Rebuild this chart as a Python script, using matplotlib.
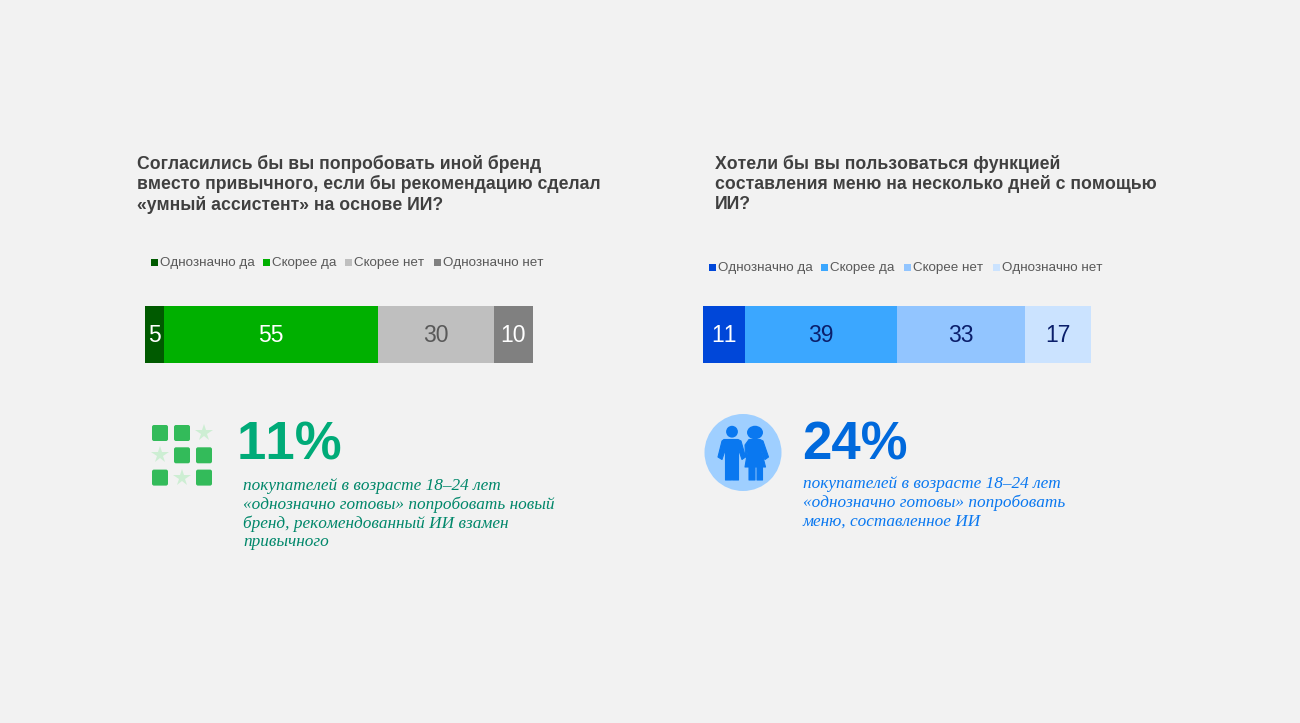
import matplotlib
matplotlib.use('Agg')
import matplotlib.pyplot as plt
from matplotlib.patches import Circle, Ellipse, FancyBboxPatch, Polygon

plt.rcParams['text.kerning_factor'] = 6
plt.rcParams['font.family'] = ['Liberation Sans', 'DejaVu Sans']

W, H = 1300, 723
BG = '#f2f2f2'

LEGEND_LABELS = ['Однозначно да', 'Скорее да', 'Скорее нет', 'Однозначно нет']

left_values = [5, 55, 30, 10]
left_colors = ['#005a00', '#00b000', '#bfbfbf', '#808080']
left_text = ['white', 'white', '#595959', 'white']
left_legend_x = [151, 263, 345, 434]
left_title = ['Согласились бы вы попробовать иной бренд',
              'вместо привычного, если бы рекомендацию сделал',
              '«умный ассистент» на основе ИИ?']
left_note = ['покупателей в возрасте 18–24 лет',
             '«однозначно готовы» попробовать новый',
             'бренд, рекомендованный ИИ взамен',
             'привычного']

right_values = [11, 39, 33, 17]
right_colors = ['#0047d9', '#3ba7ff', '#92c5ff', '#cbe3ff']
right_text = ['white', '#0b1f6b', '#0b1f6b', '#0b1f6b']
right_legend_x = [709, 821, 904, 993]
right_title = ['Хотели бы вы пользоваться функцией',
               'составления меню на несколько дней с помощью',
               'ИИ?']
right_note = ['покупателей в возрасте 18–24 лет',
              '«однозначно готовы» попробовать',
              'меню, составленное ИИ']

fig = plt.figure(figsize=(W / 100, H / 100), dpi=100, facecolor=BG)

# overlay in pixel coords for text and icons
bg = fig.add_axes([0, 0, 1, 1])
bg.set_xlim(0, W)
bg.set_ylim(H, 0)
bg.axis('off')


def stacked_bar(x0, x1, y0, y1, values, colors, text_colors):
    ax = fig.add_axes([x0 / W, 1 - y1 / H, (x1 - x0) / W, (y1 - y0) / H])
    ax.set_xlim(0, sum(values))
    ax.set_ylim(0, 1)
    ax.axis('off')
    start = 0
    for v, c, t in zip(values, colors, text_colors):
        ax.barh(0.5, v, left=start, height=1, color=c, linewidth=0)
        ax.text(start + v / 2, 0.47, str(v), color=t, fontsize=16.5, ha='center', va='center')
        start += v


def legend(xs, y, colors):
    for x, c, label in zip(xs, colors, LEGEND_LABELS):
        bg.add_patch(plt.Rectangle((x, y - 3.5), 7, 7, color=c, lw=0))
        bg.text(x + 9, y + 0.5, label, fontsize=9.6, color='#595959', va='center')


def lines(x, y, rows, step, **kw):
    for i, row in enumerate(rows):
        bg.text(x, y + i * step, row, va='center', **kw)


# left panel
lines(137, 163.5, left_title, 20.7, fontsize=12.7, fontweight='bold', color='#404040')
legend(left_legend_x, 262.5, left_colors)
stacked_bar(145, 532.5, 306, 362.5, left_values, left_colors, left_text)
bg.text(237, 445, '11%', fontsize=38, fontweight='bold', color='#00ab78', va='center')
lines(243, 486.5, left_note, 18.4, fontsize=12.4, style='italic', color='#00876a',
      family=['Liberation Serif', 'DejaVu Serif'])

# squares and stars
for r, row in enumerate(['ssx', 'xss', 'sxs']):
    for c, kind in enumerate(row):
        cx = 160 + c * 22
        cy = 433 + r * 22.3
        if kind == 's':
            bg.add_patch(FancyBboxPatch((cx - 6.5, cy - 6.5), 13, 13,
                                        boxstyle='round,pad=1.5,rounding_size=2',
                                        fc='#33bb5a', ec='none'))
        else:
            bg.plot(cx, cy, marker='*', ms=13, color='#cdeed3', mew=0)

# right panel
lines(715, 163.5, right_title, 20.7, fontsize=12.7, fontweight='bold', color='#404040')
legend(right_legend_x, 267, right_colors)
stacked_bar(702.5, 1091, 305.5, 363, right_values, right_colors, right_text)
bg.text(802, 445, '24%', fontsize=38, fontweight='bold', color='#0069dc', va='center')
lines(803, 484.5, right_note, 18.4, fontsize=12.4, style='italic', color='#0a78f0',
      family=['Liberation Serif', 'DejaVu Serif'])

# boy and girl icon
PERSON = '#0a78f0'
bg.add_patch(Circle((743, 452.5), 38.5, fc='#9fcfff', ec='none'))
bg.add_patch(Circle((732, 431.7), 5.9, fc=PERSON, ec='none'))
bg.add_patch(Ellipse((755, 432.5), 16, 13.5, fc=PERSON, ec='none'))
bg.add_patch(Polygon([(724, 439.5), (738, 439.5), (741, 441), (745.5, 457), (742, 459.5),
                      (738.5, 449), (738.5, 480), (732.5, 480), (732.5, 465), (731.5, 465),
                      (731.5, 480), (725.5, 480), (725.5, 449), (722, 459.5), (718, 457),
                      (722, 441)],
                     fc=PERSON, ec=PERSON, lw=0.8, joinstyle='round'))
bg.add_patch(Polygon([(749, 439.5), (760, 439.5), (763, 441), (768.5, 457), (765, 459.5),
                      (761, 449), (765.5, 467), (762.5, 467), (762.5, 480), (757, 480),
                      (757, 467), (755, 467), (755, 480), (749, 480), (749, 467), (745, 467),
                      (748, 449), (745.5, 457), (745, 445)],
                     fc=PERSON, ec=PERSON, lw=0.8, joinstyle='round'))

fig.savefig('out.png', dpi=100, facecolor=BG)
